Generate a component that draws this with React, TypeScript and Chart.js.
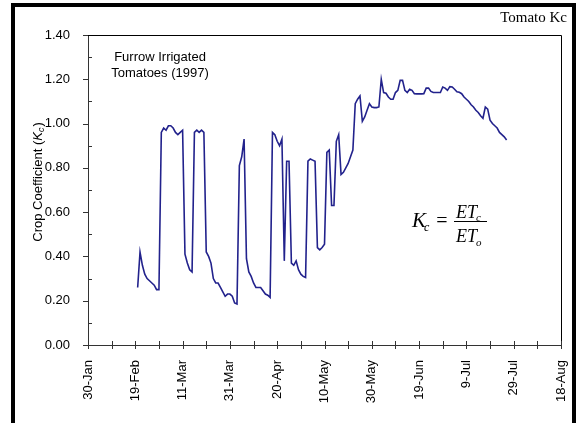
import React, { useEffect, useRef } from "react";
import { Chart, registerables } from "chart.js";

Chart.register(...registerables);

const tickLabels = ["30-Jan", "19-Feb", "11-Mar", "31-Mar", "20-Apr", "10-May", "30-May", "19-Jun", "9-Jul", "29-Jul", "18-Aug"];

// days after 30-Jan
const days = [
  21, 22, 23, 24, 25, 26, 27, 28, 29, 30,
  31, 32, 33, 34, 35, 36, 37, 38, 39, 40,
  41, 42, 43, 44, 45, 46, 47, 48, 49, 50,
  51, 52, 53, 54, 55, 56, 57, 58, 59, 60,
  61, 62, 63, 64, 65, 66, 67, 68, 69, 70,
  71, 72, 73, 74, 75, 76, 77, 78, 79, 80,
  81, 82, 83, 84, 85, 86, 87, 88, 89, 90,
  91, 92, 93, 94, 95, 96, 97, 98, 99, 100,
  101, 102, 103, 104, 105, 106, 107, 108, 109, 110,
  111, 112, 113, 114, 115, 116, 117, 118, 119, 120,
  121, 122, 123, 124, 125, 126, 127, 128, 129, 130,
  131, 132, 133, 134, 135, 136, 137, 138, 139, 140,
  141, 142, 143, 144, 145, 146, 147, 148, 149, 150,
  151, 152, 153, 154, 155, 156, 157, 158, 159, 160,
  161, 162, 163, 164, 165, 166, 167, 168, 169, 170,
  171, 172, 173, 174, 175, 176, 177,
];

const kc = [
  0.26, 0.42, 0.36, 0.32, 0.30, 0.29, 0.28, 0.27, 0.25, 0.25,
  0.96, 0.98, 0.97, 0.99, 0.99, 0.98, 0.96, 0.95, 0.96, 0.97,
  0.41, 0.37, 0.34, 0.33, 0.96, 0.97, 0.96, 0.97, 0.96, 0.42,
  0.40, 0.37, 0.30, 0.28, 0.28, 0.26, 0.24, 0.22, 0.23, 0.23,
  0.22, 0.19, 0.185, 0.81, 0.85, 0.93, 0.39, 0.33, 0.31, 0.28,
  0.26, 0.26, 0.26, 0.245, 0.23, 0.225, 0.215, 0.96, 0.95, 0.92,
  0.90, 0.93, 0.38, 0.83, 0.83, 0.37, 0.36, 0.38, 0.34, 0.32,
  0.31, 0.305, 0.83, 0.84, 0.835, 0.83, 0.44, 0.43, 0.44, 0.455,
  0.87, 0.88, 0.63, 0.63, 0.92, 0.95, 0.77, 0.78, 0.80, 0.82,
  0.85, 0.88, 1.09, 1.11, 1.125, 1.01, 1.03, 1.06, 1.09, 1.075,
  1.072, 1.072, 1.075, 1.20, 1.14, 1.137, 1.12, 1.11, 1.11, 1.14,
  1.15, 1.195, 1.195, 1.15, 1.14, 1.155, 1.15, 1.135, 1.134, 1.134,
  1.134, 1.135, 1.16, 1.16, 1.145, 1.14, 1.14, 1.14, 1.14, 1.165,
  1.16, 1.15, 1.167, 1.165, 1.155, 1.144, 1.141, 1.135, 1.12, 1.11,
  1.10, 1.085, 1.075, 1.06, 1.05, 1.035, 1.024, 1.075, 1.065, 1.015,
  1.00, 0.99, 0.98, 0.96, 0.95, 0.94, 0.926,
];

const chartTitle = "Tomato Kc";
const noteLines = ["Furrow Irrigated", "Tomatoes (1997)"];
const yTitleMain = "Crop Coefficient (";

const SANS = '"Liberation Sans", Arial, sans-serif';
const SERIF = '"Liberation Serif", "Times New Roman", serif';

const decorPlugin = {
  id: "decor",
  afterDraw(chart: any) {
    const { ctx, chartArea: a, scales } = chart;
    const x = scales.x;
    const y = scales.y;
    ctx.save();

    // box top + right
    ctx.strokeStyle = "#000";
    ctx.lineWidth = 1;
    ctx.beginPath();
    ctx.moveTo(a.left, Math.round(a.top) + 0.5);
    ctx.lineTo(Math.round(a.right) + 0.5, Math.round(a.top) + 0.5);
    ctx.lineTo(Math.round(a.right) + 0.5, a.bottom);
    ctx.stroke();

    // x tick marks (crossing)
    ctx.strokeStyle = "#333";
    for (let d = 0; d <= 200; d += 10) {
      const px = Math.round(x.getPixelForValue(d)) + 0.5;
      ctx.beginPath();
      ctx.moveTo(px, a.bottom - 4);
      ctx.lineTo(px, a.bottom + 4);
      ctx.stroke();
    }
    // y tick marks
    for (let v = 0; v <= 14; v++) {
      const py = Math.round(y.getPixelForValue(v / 10)) + 0.5;
      ctx.beginPath();
      if (v % 2 === 0) {
        ctx.moveTo(a.left - 5, py);
        ctx.lineTo(a.left, py);
      } else {
        ctx.moveTo(a.left, py);
        ctx.lineTo(a.left + 4, py);
      }
      ctx.stroke();
    }

    ctx.fillStyle = "#000";
    // chart title top right
    ctx.font = `15px ${SERIF}`;
    ctx.textAlign = "right";
    ctx.textBaseline = "alphabetic";
    ctx.fillText(chartTitle, 567, 22);

    // note
    ctx.font = `13px ${SANS}`;
    ctx.textAlign = "center";
    ctx.textBaseline = "middle";
    ctx.fillText(noteLines[0], 160, 57);
    ctx.fillText(noteLines[1], 160, 73);

    // y-axis title with subscript
    ctx.save();
    ctx.translate(38, 182);
    ctx.rotate(-Math.PI / 2);
    ctx.textAlign = "left";
    ctx.textBaseline = "middle";
    const fMain = `13px ${SANS}`;
    const fK = `italic 13px ${SANS}`;
    const fSub = `italic 9px ${SANS}`;
    ctx.font = fMain;
    const w1 = ctx.measureText(yTitleMain).width;
    const w3 = ctx.measureText(")").width;
    ctx.font = fK;
    const w2 = ctx.measureText("K").width;
    ctx.font = fSub;
    const wS = ctx.measureText("c").width;
    const total = w1 + w2 + wS + 1 + w3;
    let cx = -total / 2;
    ctx.font = fMain;
    ctx.fillText(yTitleMain, cx, 0);
    cx += w1;
    ctx.font = fK;
    ctx.fillText("K", cx, 0);
    cx += w2;
    ctx.font = fSub;
    ctx.fillText("c", cx, 3);
    cx += wS + 1;
    ctx.font = fMain;
    ctx.fillText(")", cx, 0);
    ctx.restore();

    // formula Kc = ETc / ETo
    ctx.textAlign = "left";
    ctx.textBaseline = "alphabetic";
    ctx.font = `italic 21px ${SERIF}`;
    ctx.fillText("K", 412, 227);
    const kw = ctx.measureText("K").width;
    ctx.font = `italic 12px ${SERIF}`;
    ctx.fillText("c", 412 + kw - 2, 231);
    ctx.font = `20px ${SERIF}`;
    ctx.textAlign = "center";
    ctx.fillText("=", 442, 227);
    ctx.beginPath();
    ctx.strokeStyle = "#000";
    ctx.moveTo(454, 221.5);
    ctx.lineTo(487, 221.5);
    ctx.stroke();
    ctx.textAlign = "left";
    ctx.font = `italic 18px ${SERIF}`;
    ctx.fillText("ET", 456, 218);
    const ew = ctx.measureText("ET").width;
    ctx.fillText("ET", 456, 242);
    ctx.font = `italic 11px ${SERIF}`;
    ctx.fillText("c", 456 + ew - 1, 221);
    ctx.fillText("o", 456 + ew - 1, 246);

    ctx.restore();
  },
};

export default function App() {
  const ref = useRef<HTMLCanvasElement | null>(null);

  useEffect(() => {
    document.body.style.margin = "0";
    document.body.style.background = "#fff";
    if (!ref.current) return;
    const data = days.map((d, i) => ({ x: d, y: kc[i] }));
    const chart = new Chart(ref.current, {
      type: "line",
      data: {
        datasets: [
          {
            data,
            borderColor: "#22228c",
            borderWidth: 1.6,
            pointRadius: 0,
            tension: 0,
            fill: false,
          },
        ],
      },
      options: {
        animation: false,
        responsive: false,
        devicePixelRatio: 1,
        layout: { padding: { left: 0, top: 35, right: 15, bottom: 0 } },
        plugins: { legend: { display: false }, tooltip: { enabled: false } },
        scales: {
          x: {
            type: "linear",
            min: 0,
            max: 200,
            afterFit: (s: any) => {
              s.height = 78;
              s.paddingLeft = 0;
              s.paddingRight = 0;
            },
            grid: { display: false },
            border: { display: true, color: "#333", width: 1 },
            ticks: {
              stepSize: 20,
              autoSkip: false,
              minRotation: 90,
              maxRotation: 90,
              padding: 7,
              color: "#000",
              font: { family: SANS, size: 13 },
              callback: (v: any) => {
                const i = Math.round(Number(v) / 20);
                return tickLabels[i] ?? "";
              },
            },
          },
          y: {
            min: 0,
            max: 1.4,
            afterFit: (s: any) => {
              s.width = 88;
              s.paddingTop = 0;
              s.paddingBottom = 0;
            },
            grid: { display: false },
            border: { display: true, color: "#333", width: 1 },
            ticks: {
              stepSize: 0.2,
              padding: 10,
              color: "#000",
              font: { family: SANS, size: 13 },
              callback: (v: any) => Number(v).toFixed(2),
            },
          },
        },
      },
      plugins: [decorPlugin],
    });
    return () => chart.destroy();
  }, []);

  return (
    <div style={{ position: "relative", width: 576, height: 423, overflow: "hidden", background: "#fff" }}>
      <div
        style={{
          position: "absolute",
          left: 11,
          top: 3,
          width: 565,
          height: 440,
          boxSizing: "border-box",
          borderLeft: "4px solid #000",
          borderRight: "4px solid #000",
          borderTop: "4px solid #000",
        }}
      />
      <canvas ref={ref} width={576} height={423} style={{ position: "absolute", left: 0, top: 0 }} />
    </div>
  );
}
